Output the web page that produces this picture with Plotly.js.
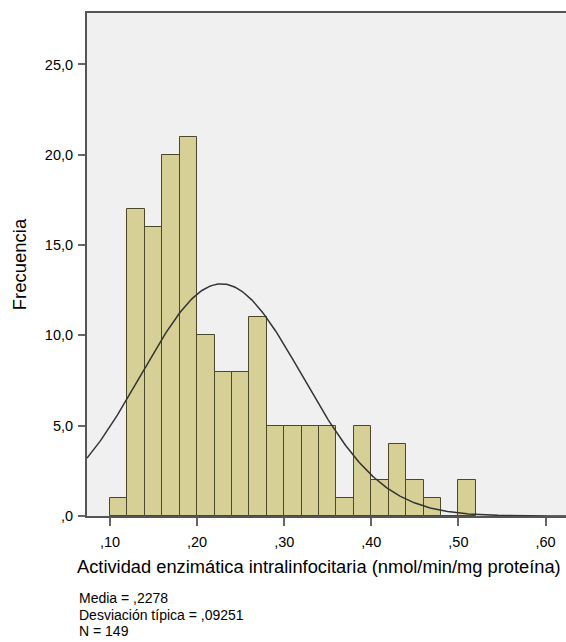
<!DOCTYPE html>
<html>
<head>
<meta charset="utf-8">
<script src="https://cdn.plot.ly/plotly-3.0.1.min.js"></script>
<style>html,body{margin:0;padding:0;background:#fff;}#chart{width:566px;height:642px;}</style>
</head>
<body>
<div id="chart"></div>
<script>
// Histogram bins (left edge of each 0,02-wide bin) and frequencies
const binStarts = [0.10,0.12,0.14,0.16,0.18,0.20,0.22,0.24,0.26,0.28,0.30,0.32,0.34,0.36,0.38,0.40,0.42,0.44,0.46,0.48,0.50];
const frequencies = [1,17,16,20,21,10,8,8,11,5,5,5,5,1,5,2,4,2,1,0,2];
const binWidth = 0.02;

// Summary statistics shown under the chart
const mean = 0.2278;
const stdDev = 0.09251;
const nObs = 149;
const statsLines = ['Media = ,2278', 'Desviación típica = ,09251', 'N = 149'];

// Axis titles
const xTitle = 'Actividad enzimática intralinfocitaria (nmol/min/mg proteína)';
const yTitle = 'Frecuencia';

// Tick labels
const xTickVals = [0.10,0.20,0.30,0.40,0.50,0.60];
const xTickText = [",10",",20",",30",",40",",50",",60"];
const yTickVals = [0,5,10,15,20,25];
const yTickText = [",0","5,0","10,0","15,0","20,0","25,0"];

const xRange = [0.0736, 0.6235];

const binCenters = binStarts.map(s => s + binWidth/2);

// Fitted normal curve (scaled to counts) from the stated mean, SD and N
const curveX = [];
const curveY = [];
for (let i = 0; i <= 300; i++) {
  const x = xRange[0] + (xRange[1]-xRange[0]) * i / 300;
  const z = (x - mean) / stdDev;
  curveX.push(x);
  curveY.push(nObs * binWidth * Math.exp(-0.5*z*z) / (stdDev*Math.sqrt(2*Math.PI)));
}

const font = {family: '"Liberation Sans", Arial, sans-serif', color: '#000'};
const f = s => Object.assign({size: s}, font);

const data = [
  {
    type: 'bar',
    x: binCenters,
    y: frequencies,
    width: binWidth,
    marker: {color: '#d6d096', line: {color: '#4a472a', width: 1}},
    hoverinfo: 'x+y'
  },
  {
    type: 'scatter',
    mode: 'lines',
    x: curveX,
    y: curveY,
    line: {color: '#333333', width: 1.5},
    hoverinfo: 'skip'
  }
];

const statsY = [598, 615, 631];
const annotations = statsLines.map((t, i) => ({
  xref: 'paper', yref: 'paper',
  x: -0.0209, y: (516 - statsY[i]) / 503,
  xanchor: 'left', yanchor: 'middle',
  align: 'left',
  showarrow: false,
  text: t,
  font: f(14)
}));
annotations.push({
  xref: 'paper', yref: 'paper',
  x: (319 - 87) / 479, y: (516 - 566) / 503,
  xanchor: 'center', yanchor: 'middle',
  showarrow: false,
  text: xTitle,
  font: f(18.3)
});

const layout = {
  width: 566,
  height: 642,
  margin: {l: 87, r: 0, t: 13, b: 126},
  paper_bgcolor: '#ffffff',
  plot_bgcolor: '#f0f0f0',
  showlegend: false,
  bargap: 0,
  font: f(14),
  xaxis: {
    range: xRange,
    tickmode: 'array',
    tickvals: xTickVals,
    ticktext: xTickText,
    ticks: 'outside',
    ticklen: 8,
    tickwidth: 1.5,
    tickcolor: '#666',
    ticklabelstandoff: 4,
    showgrid: false,
    zeroline: false,
    showline: true,
    linecolor: '#555',
    linewidth: 2,
    mirror: true,
    tickfont: f(14.5),
    automargin: false
  },
  yaxis: {
    range: [0, 27.85],
    tickmode: 'array',
    tickvals: yTickVals,
    ticktext: yTickText,
    ticks: 'outside',
    ticklen: 7,
    tickwidth: 1.5,
    tickcolor: '#666',
    ticklabelstandoff: 2,
    showgrid: false,
    zeroline: false,
    showline: true,
    linecolor: '#555',
    linewidth: 2,
    tickfont: f(14.5),
    automargin: false,
    title: {text: yTitle, font: f(18.5), standoff: 13}
  },
  annotations: annotations
};

Plotly.newPlot('chart', data, layout, {displayModeBar: false, responsive: false});
</script>
</body>
</html>
